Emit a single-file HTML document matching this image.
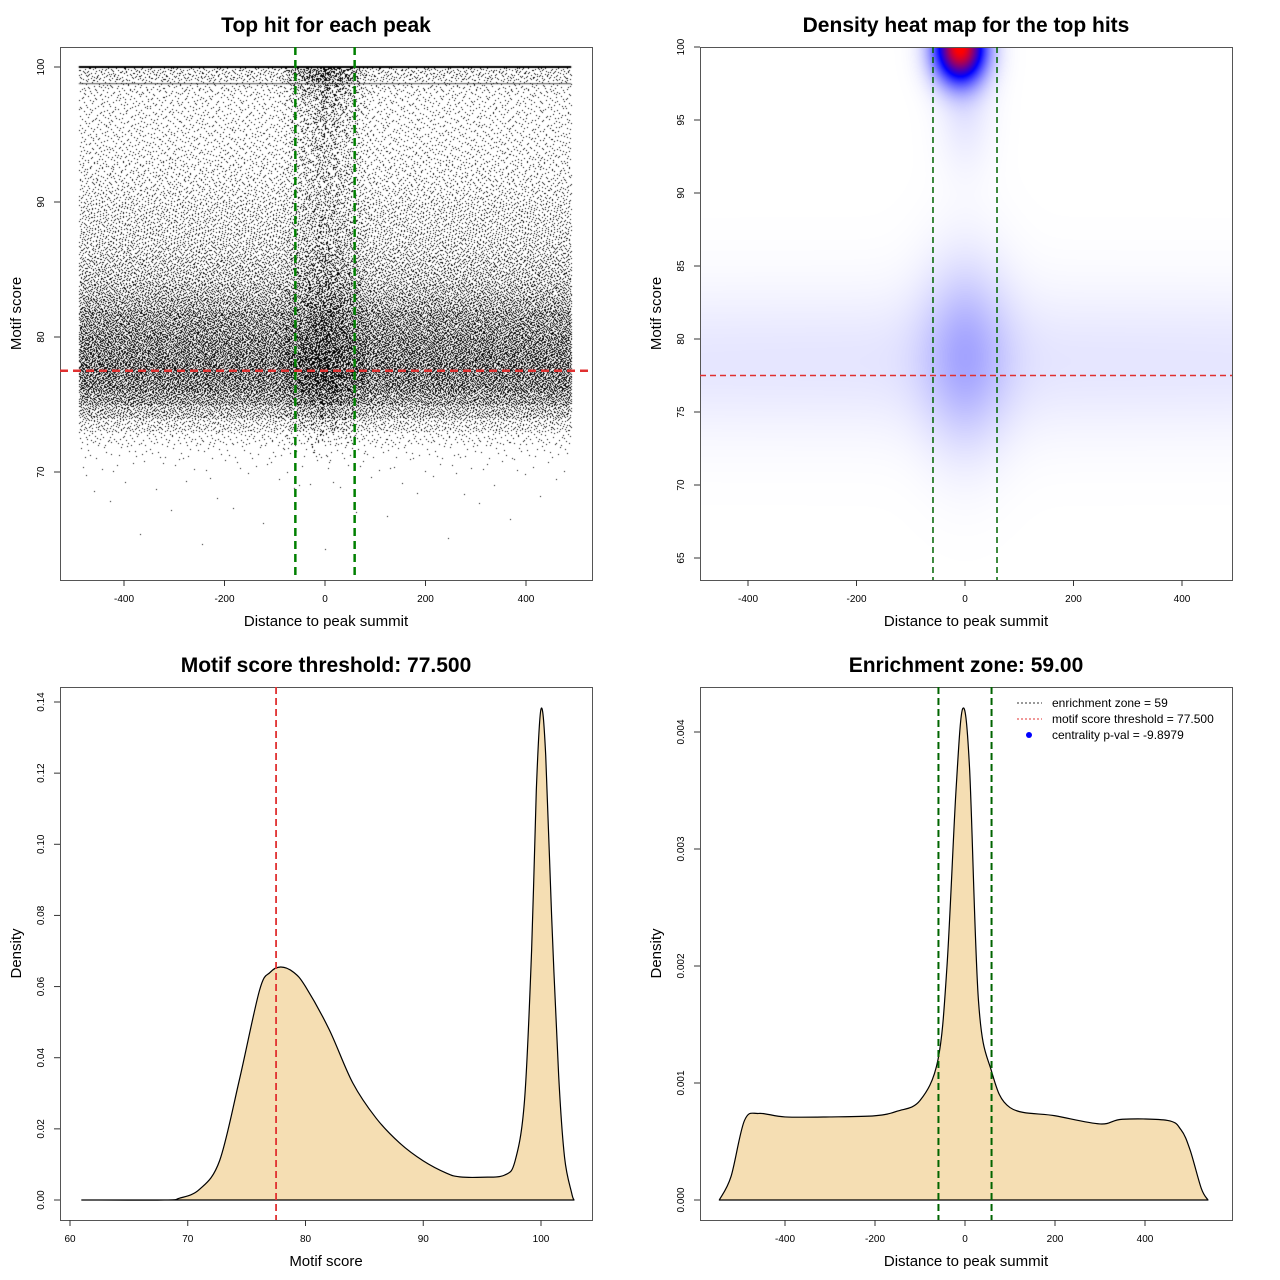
<!DOCTYPE html>
<html><head><meta charset="utf-8"><style>
body{margin:0;background:#fff;width:1280px;height:1280px;overflow:hidden;position:relative;font-family:"Liberation Sans",sans-serif}
canvas{position:absolute}
svg{position:absolute;left:0;top:0}
</style></head><body>
<canvas id="sc" width="1280" height="1280" style="left:0;top:0"></canvas>
<canvas id="hm" width="532" height="533" style="left:700px;top:47px"></canvas>
<svg id="sv" width="1280" height="1280"></svg>
<script>
// ---- data ----
const scatterScores=[64,65,66,67,68,69,70,71,72,73,74,75,76,77,78,79,80,81,82,83,84,85,86,87,88,89,90,91,92,93,94,95,96,97,98,99];
const scatterCounts=[2,2,3,5,8,15,40,120,350,900,1800,2800,3500,3800,3600,3300,3000,2800,2200,1800,1500,1300,1100,1000,900,850,700,600,550,500,450,430,420,420,500,900];
const centerCounts=[0,0,0,0,0,1,2,8,30,70,120,180,220,240,240,230,210,190,170,150,130,115,100,90,85,80,80,80,85,90,100,110,130,160,220,400];
const heatCx=[-10,0,0,0];
const heatCy=[100,79,78.5,96];
const heatSx=[32,55,2000,35];
const heatSy=[1.6,4.5,3.5,3];
const heatAmp=[1,0.13,0.05,0.05];
const scoreX=[61,68,69.3,71,72.7,74.4,76.1,77,77.9,79,80,82,84,86,88,90,92,93.1,95,96.9,97.8,98.6,99.2,99.6,100,100.4,100.9,101.5,102,102.6,102.8];
const scoreY=[0,0,0.0005,0.003,0.011,0.034,0.059,0.064,0.0655,0.064,0.06,0.048,0.033,0.023,0.016,0.011,0.0075,0.0065,0.0064,0.007,0.011,0.028,0.07,0.115,0.138,0.125,0.08,0.035,0.012,0.002,0];
const distX=[-546,-520,-490,-458,-400,-300,-200,-150,-100,-60,-40,-20,-5,10,30,59,100,200,300,350,450,480,500,525,540];
const distY=[0,0.0002,0.00068,0.00074,0.00071,0.00071,0.00072,0.00076,0.00085,0.0012,0.002,0.0035,0.0042,0.0037,0.0017,0.0011,0.00079,0.00072,0.00065,0.00069,0.00068,0.0006,0.00043,0.0001,0];
const xTicksDist=[-400,-200,0,200,400];

const NS="http://www.w3.org/2000/svg",sv=document.getElementById('sv');
function el(t,a,txt){const e=document.createElementNS(NS,t);for(const k in a)e.setAttribute(k,a[k]);if(txt!==undefined)e.textContent=txt;sv.appendChild(e);return e;}
function lin(d0,d1,r0,r1){return v=>r0+(v-d0)*(r1-r0)/(d1-d0);}
function smooth(p){let d='';for(let i=0;i<p.length-1;i++){const p0=p[Math.max(0,i-1)],p1=p[i],p2=p[i+1],p3=p[Math.min(p.length-1,i+2)];
 const c1=[p1[0]+(p2[0]-p0[0])/6,p1[1]+(p2[1]-p0[1])/6],c2=[p2[0]-(p3[0]-p1[0])/6,p2[1]-(p3[1]-p1[1])/6];
 d+=` C${c1[0]},${c1[1]} ${c2[0]},${c2[1]} ${p2[0]},${p2[1]}`;}return d;}
function frame(x0,y0,x1,y1,title,xl,yl,name){
 let e=el('rect',{x:x0+.5,y:y0+.5,width:x1-x0,height:y1-y0,fill:'none',stroke:'#555'});
 
 e=el('text',{x:(x0+x1)/2,y:y0-15,'font-size':21,'font-weight':'bold','text-anchor':'middle'},title);
 
 e=el('text',{x:(x0+x1)/2,y:y1+46,'font-size':15,'text-anchor':'middle'},xl);
 
 e=el('text',{x:0,y:0,'font-size':15,'text-anchor':'middle',transform:`translate(${x0-39},${(y0+y1)/2}) rotate(-90)`},yl);
 
}
function xticks(vals,f,y1,name){vals.forEach(v=>{const x=f(v);el('line',{x1:x,x2:x,y1:y1,y2:y1+6,stroke:'#333'});
 const t=el('text',{x:x,y:y1+22,'font-size':10,'text-anchor':'middle'},String(v));});}
function yticks(vals,f,x0,name,lab){vals.forEach((v,i)=>{const y=f(v);el('line',{x1:x0,x2:x0-6,y1:y,y2:y,stroke:'#333'});
 const t=el('text',{x:0,y:0,'font-size':10,'text-anchor':'middle',transform:`translate(${x0-16},${y}) rotate(-90)`},lab?lab[i]:String(v));});}
function vline(x,y0,y1,c,w,d,name){const e=el('line',{x1:x,x2:x,y1:y0,y2:y1,stroke:c,'stroke-width':w,'stroke-dasharray':d});}
function hline(y,x0,x1,c,w,d,name){const e=el('line',{x1:x0,x2:x1,y1:y,y2:y,stroke:c,'stroke-width':w,'stroke-dasharray':d});}

// ---- panel 1 scatter ----
{const X=lin(0,400,325,526),Y=lin(100,70,67,472);
 const c=document.getElementById('sc').getContext('2d');c.fillStyle='#000';
 function halton(i,b){let f=1,r=0;while(i>0){f/=b;r+=f*(i%b);i=Math.floor(i/b);}return r;}
 function dot(x,y){c.fillRect(Math.round(X(x)),Math.round(Y(Math.min(y,100))),1,1);}
 let k=1;
 scatterScores.forEach((s,i)=>{for(let j=0;j<scatterCounts[i];j++,k++){dot(-490+980*halton(k,2),s+halton(k,3));}
  for(let j=0;j<centerCounts[i];j++,k++){const u=halton(k,2)+halton(k,5)-1;dot(u*90,s+halton(k,3));}});
 c.fillRect(X(-490),Y(100)-1,X(490)-X(-490),2);
 c.globalAlpha=0.7;c.fillRect(X(-490),Y(98.8),X(490)-X(-490),1);c.globalAlpha=1;
 frame(60,47,592,580,'Top hit for each peak','Distance to peak summit','Motif score','scatter');
 xticks(xTicksDist,X,580,'scatter');yticks([70,80,90,100],Y,60,'scatter');
 vline(X(-59),47,580,'#008000',2.5,'8,5','scatter-zone-left');vline(X(59),47,580,'#008000',2.5,'8,5','scatter-zone-right');
 hline(Y(77.5),60,592,'#e03030',2.5,'8,5','scatter-threshold');}

// ---- panel 2 heatmap ----
{const X=lin(0,400,965,1182),Y=lin(100,65,47,558);
 const cv=document.getElementById('hm'),c=cv.getContext('2d'),img=c.createImageData(532,533);
 for(let py=0;py<533;py++)for(let px=0;px<532;px++){
  const dx=(px+700-965)/((1182-965)/400),dy=100-(py)/((558-47)/35);
  let v=0;for(let i=0;i<heatCx.length;i++){const a=(dx-heatCx[i])/heatSx[i],b=(dy-heatCy[i])/heatSy[i];v+=heatAmp[i]*Math.exp(-0.5*(a*a+b*b));}
  let r,g,bl;if(v<0.5){const t=v/0.5;r=255*(1-t);g=255*(1-t);bl=255;}else{const t=Math.min(1,(v-0.5)/0.5);r=255*t;g=0;bl=255*(1-t);}
  const o=(py*532+px)*4;img.data[o]=r;img.data[o+1]=g;img.data[o+2]=bl;img.data[o+3]=255;}
 c.putImageData(img,0,0);
 frame(700,47,1232,580,'Density heat map for the top hits','Distance to peak summit','Motif score','heatmap');
 xticks(xTicksDist,X,580,'heatmap');yticks([65,70,75,80,85,90,95,100],Y,700,'heatmap');
 vline(X(-59),47,580,'#006400',1.5,'6,4','heatmap-zone-left');vline(X(59),47,580,'#006400',1.5,'6,4','heatmap-zone-right');
 hline(Y(77.5),700,1232,'#e03030',1.5,'6,4','heatmap-threshold');}

// ---- panel 3 score density ----
{const X=lin(60,100,70,541),Y=lin(0,0.14,1200,702);
 const pts=scoreX.map((x,i)=>[X(x),Y(scoreY[i])]);
 let d='M'+pts[0][0]+','+pts[0][1]+smooth(pts)+'Z';
 let e=el('path',{d:d,fill:'#f5deb3',stroke:'#000','stroke-width':1.2,'stroke-linejoin':'round'});
 frame(60,687,592,1220,'Motif score threshold: 77.500','Motif score','Density','score-density');
 xticks([60,70,80,90,100],X,1220,'score-density');
 const yv=[0,0.02,0.04,0.06,0.08,0.10,0.12,0.14];yticks(yv,Y,60,'score-density',yv.map(v=>v.toFixed(2)));
 vline(X(77.5),687,1220,'#e03030',1.8,'7,4','score-threshold-line');}

// ---- panel 4 distance density ----
{const X=lin(0,400,965,1145),Y=lin(0,0.004,1200,732);
 const pts=distX.map((x,i)=>[X(x),Y(distY[i])]);
 let d='M'+pts[0][0]+','+pts[0][1]+smooth(pts)+'Z';
 let e=el('path',{d:d,fill:'#f5deb3',stroke:'#000','stroke-width':1.2,'stroke-linejoin':'round'});
 frame(700,687,1232,1220,'Enrichment zone: 59.00','Distance to peak summit','Density','dist-density');
 xticks(xTicksDist,X,1220,'dist-density');
 const yv=[0,0.001,0.002,0.003,0.004];yticks(yv,Y,700,'dist-density',yv.map(v=>v.toFixed(3)));
 vline(X(-59),687,1220,'#006400',2,'7,4','dist-zone-left');vline(X(59),687,1220,'#006400',2,'7,4','dist-zone-right');
 const leg=[['enrichment zone = 59','#333'],['motif score threshold = 77.500','#e03030'],['centrality p-val = -9.8979','blue']];
 leg.forEach((l,i)=>{const y=703+i*16;
  if(i<2)hline(y,1017,1042,l[1],1,'2,2','legend-line-'+i);else{const c=el('circle',{cx:1029,cy:y,r:3,fill:'blue'});}
  const t=el('text',{x:1052,y:y+4,'font-size':12},l[0]);});}
</script>
</body></html>
